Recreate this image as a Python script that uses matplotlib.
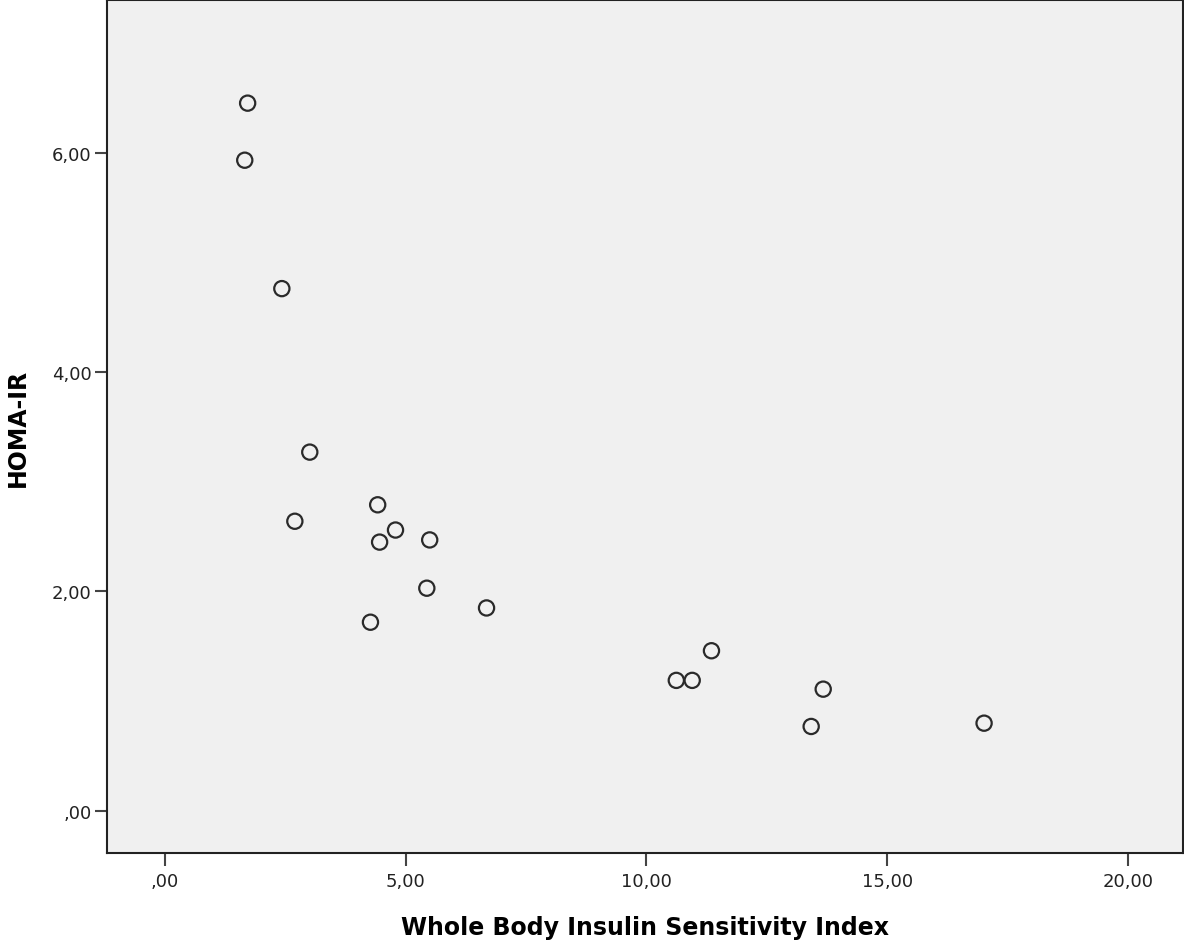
import matplotlib
matplotlib.use("Agg")
import matplotlib.pyplot as plt
from matplotlib.ticker import FuncFormatter

# values
wbisi = [1.72, 1.66, 2.43, 3.01, 2.70, 4.42, 4.46, 4.79, 5.50, 5.44,
         4.27, 6.68, 10.62, 10.95, 11.35, 13.67, 13.42, 17.01]
homa_ir = [6.45, 5.93, 4.76, 3.27, 2.64, 2.79, 2.45, 2.56, 2.47, 2.03,
           1.72, 1.85, 1.19, 1.19, 1.46, 1.11, 0.77, 0.80]
x_ticks = [0, 5, 10, 15, 20]
y_ticks = [0, 2, 4, 6]


def spss_fmt(v, pos):
    # SPSS style: comma decimal, no leading zero
    s = "%.2f" % v
    if s.startswith("0"):
        s = s[1:]
    return s.replace(".", ",")


fig = plt.figure(figsize=(11.84, 9.45), dpi=100)
ax = fig.add_axes([107/1184, 91/945, 1076/1184, 853/945])
ax.set_facecolor("#f0f0f0")

ax.scatter(wbisi, homa_ir, s=120, facecolors="none", edgecolors="#2a2a2a", linewidths=1.6, zorder=3)

ax.set_xlim(-1.2, 21.14)
ax.set_ylim(-0.383, 7.39)
ax.set_xticks(x_ticks)
ax.set_yticks(y_ticks)
ax.xaxis.set_major_formatter(FuncFormatter(spss_fmt))
ax.yaxis.set_major_formatter(FuncFormatter(spss_fmt))
ax.tick_params(direction="out", length=9, width=1.5, color="#444444", labelsize=13, labelcolor="#222222")
ax.tick_params(axis="x", pad=5)
ax.tick_params(axis="y", pad=2)

for sp in ax.spines.values():
    sp.set_linewidth(1.5)
    sp.set_color("#222222")

ax.set_xlabel("Whole Body Insulin Sensitivity Index", fontsize=17, fontweight="bold", labelpad=18)
ax.set_ylabel("HOMA-IR", fontsize=17, fontweight="bold", labelpad=16)

fig.savefig("out.png", dpi=100)
